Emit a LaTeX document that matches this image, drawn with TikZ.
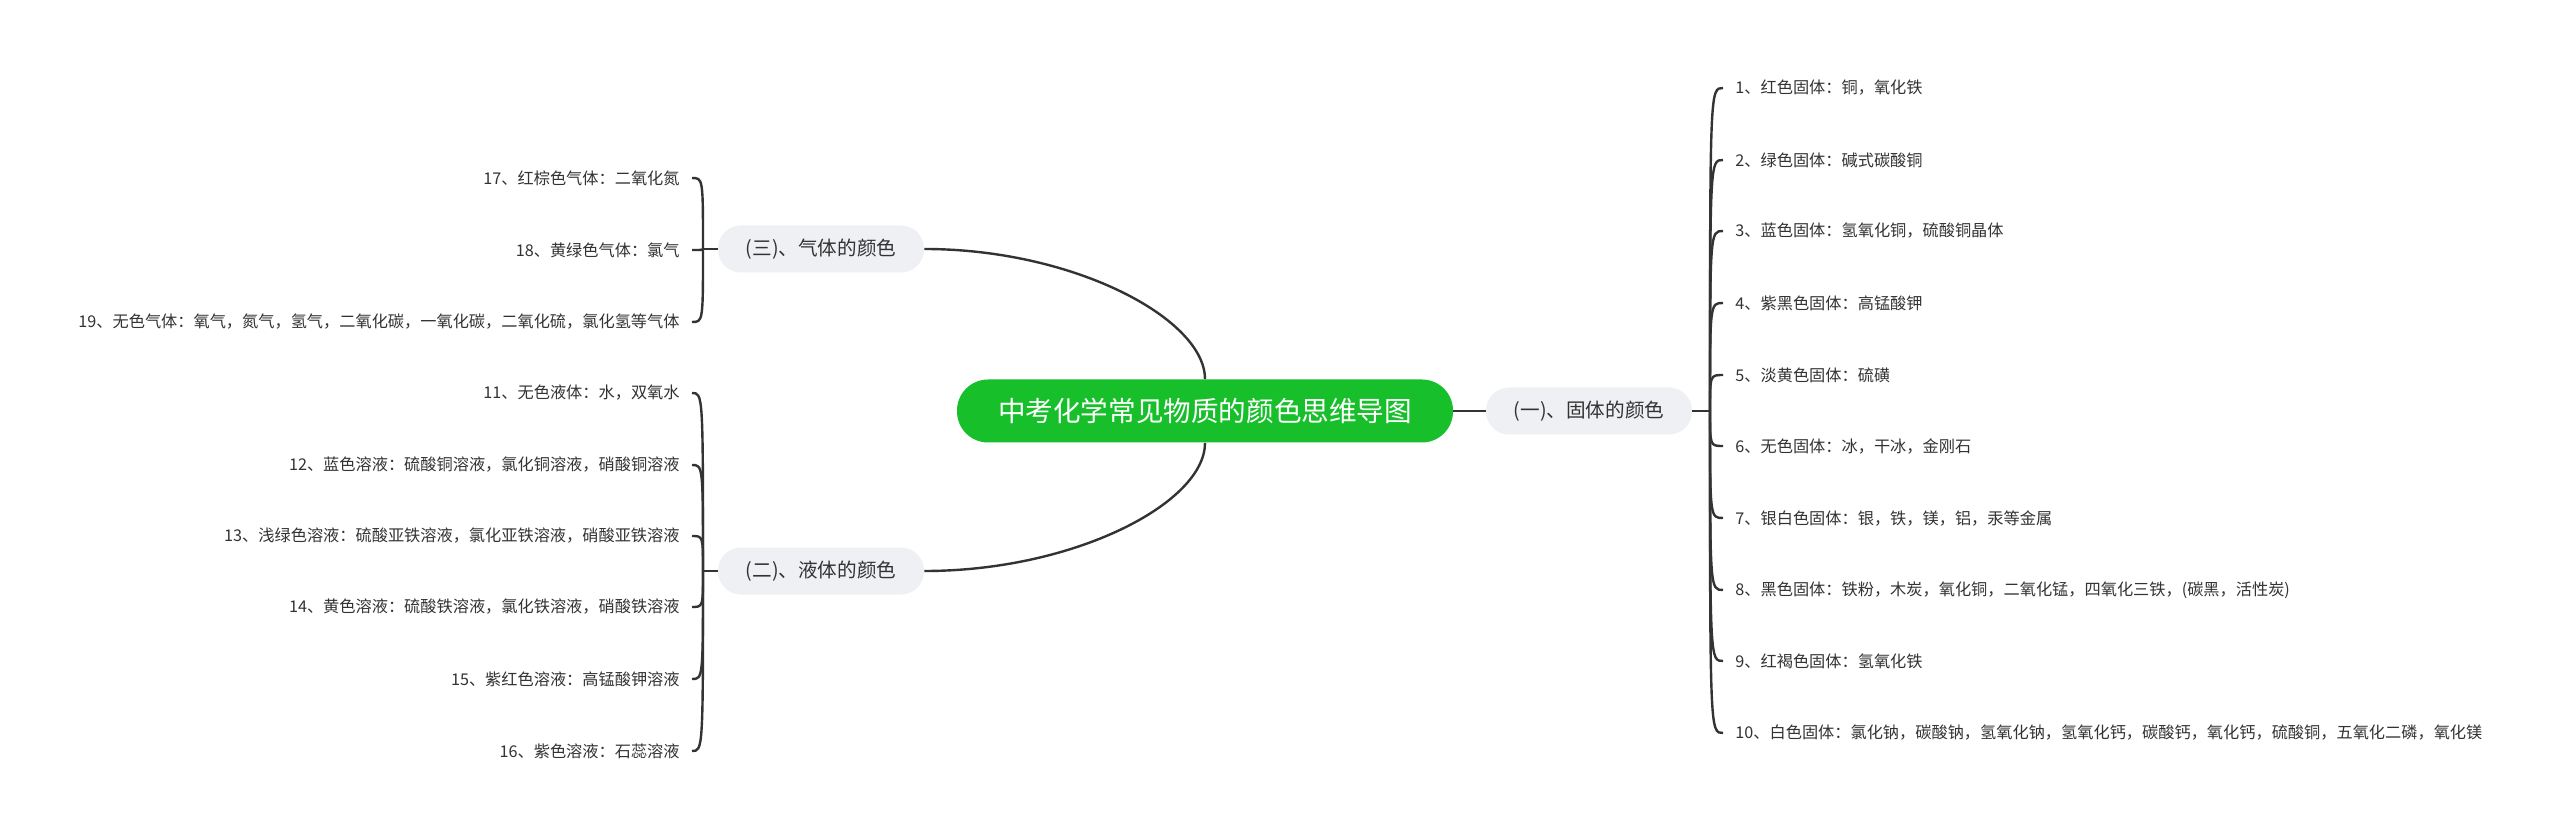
\documentclass[tikz,border=0pt]{standalone}
\usepackage{fontspec}
\setmainfont{Noto Sans CJK SC}
\definecolor{rootgreen}{HTML}{17C02A}
\definecolor{branchgray}{HTML}{EEF0F4}
\definecolor{wiregray}{HTML}{333333}

\begin{document}
\begin{tikzpicture}[x=0.5pt, y=-0.5pt,
	wire/.style={draw=wiregray, line width=1.2pt},
	rootbox/.style={fill=rootgreen, text=white, rounded corners=15.5pt, minimum width=248pt, minimum height=31.5pt, inner sep=0pt, font=\fontsize{13.8}{16}\selectfont},
	branchbox/.style={fill=branchgray, text=wiregray, rounded corners=11.5pt, minimum width=103pt, minimum height=23.5pt, inner sep=0pt, font=\fontsize{9.8}{12}\selectfont},
	leafright/.style={anchor=west, inner xsep=6pt, inner ysep=2pt, text=wiregray, font=\fontsize{8.1}{10}\selectfont},
	leafleft/.style={anchor=east, inner xsep=6pt, inner ysep=2pt, text=wiregray, font=\fontsize{8.1}{10}\selectfont}]
		\useasboundingbox (0,0) rectangle (2560,839);
		\fill[white] (0,0) rectangle (2560,839);
		% Centre and first level:
		\node[rootbox] (root) at (1205,411){中考化学常见物质的颜色思维导图};
		\node[branchbox] (solid) at (1589,411){(一)、固体的颜色};
		\node[branchbox] (gas) at (821,249){(三)、气体的颜色};
		\node[branchbox] (liquid) at (821,571){(二)、液体的颜色};
		\coordinate (jsolid) at (1710,411);
		\coordinate (jgas) at (703,249);
		\coordinate (jliquid) at (703,571);
		% Leaves, right side:
		\node[leafright] (s1) at (1723,88){1、红色固体：铜，氧化铁};
		\node[leafright] (s2) at (1723,160){2、绿色固体：碱式碳酸铜};
		\node[leafright] (s3) at (1723,231){3、蓝色固体：氢氧化铜，硫酸铜晶体};
		\node[leafright] (s4) at (1723,303){4、紫黑色固体：高锰酸钾};
		\node[leafright] (s5) at (1723,375){5、淡黄色固体：硫磺};
		\node[leafright] (s6) at (1723,446){6、无色固体：冰，干冰，金刚石};
		\node[leafright] (s7) at (1723,518){7、银白色固体：银，铁，镁，铝，汞等金属};
		\node[leafright] (s8) at (1723,590){8、黑色固体：铁粉，木炭，氧化铜，二氧化锰，四氧化三铁，(碳黑，活性炭)};
		\node[leafright] (s9) at (1723,661){9、红褐色固体：氢氧化铁};
		\node[leafright] (s10) at (1723,733){10、白色固体：氯化钠，碳酸钠，氢氧化钠，氢氧化钙，碳酸钙，氧化钙，硫酸铜，五氧化二磷，氧化镁};
		% Leaves, left side:
		\node[leafleft] (g17) at (692,178){17、红棕色气体：二氧化氮};
		\node[leafleft] (g18) at (692,250){18、黄绿色气体：氯气};
		\node[leafleft] (g19) at (692,322){19、无色气体：氧气，氮气，氢气，二氧化碳，一氧化碳，二氧化硫，氯化氢等气体};
		\node[leafleft] (l11) at (692,393){11、无色液体：水，双氧水};
		\node[leafleft] (l12) at (692,465){12、蓝色溶液：硫酸铜溶液，氯化铜溶液，硝酸铜溶液};
		\node[leafleft] (l13) at (692,536){13、浅绿色溶液：硫酸亚铁溶液，氯化亚铁溶液，硝酸亚铁溶液};
		\node[leafleft] (l14) at (692,607){14、黄色溶液：硫酸铁溶液，氯化铁溶液，硝酸铁溶液};
		\node[leafleft] (l15) at (692,679){15、紫红色溶液：高锰酸钾溶液};
		\node[leafleft] (l16) at (692,751){16、紫色溶液：石蕊溶液};
		% Wires:
		\draw[wire] (root.east) -- (solid.west);
		\draw[wire] (gas.east) .. controls +(150,0) and +(0,-60) .. (root.north);
		\draw[wire] (liquid.east) .. controls +(150,0) and +(0,60) .. (root.south);
		\draw[wire] (solid.east) -- (jsolid);
		\draw[wire] (gas.west) -- (jgas);
		\draw[wire] (liquid.west) -- (jliquid);
		\draw[wire] (jsolid) .. controls (jsolid |- s1) .. (s1.west);
		\draw[wire] (jsolid) .. controls (jsolid |- s2) .. (s2.west);
		\draw[wire] (jsolid) .. controls (jsolid |- s3) .. (s3.west);
		\draw[wire] (jsolid) .. controls (jsolid |- s4) .. (s4.west);
		\draw[wire] (jsolid) .. controls (jsolid |- s5) .. (s5.west);
		\draw[wire] (jsolid) .. controls (jsolid |- s6) .. (s6.west);
		\draw[wire] (jsolid) .. controls (jsolid |- s7) .. (s7.west);
		\draw[wire] (jsolid) .. controls (jsolid |- s8) .. (s8.west);
		\draw[wire] (jsolid) .. controls (jsolid |- s9) .. (s9.west);
		\draw[wire] (jsolid) .. controls (jsolid |- s10) .. (s10.west);
		\draw[wire] (jgas) .. controls (jgas |- g17) .. (g17.east);
		\draw[wire] (jgas) .. controls (jgas |- g18) .. (g18.east);
		\draw[wire] (jgas) .. controls (jgas |- g19) .. (g19.east);
		\draw[wire] (jliquid) .. controls (jliquid |- l11) .. (l11.east);
		\draw[wire] (jliquid) .. controls (jliquid |- l12) .. (l12.east);
		\draw[wire] (jliquid) .. controls (jliquid |- l13) .. (l13.east);
		\draw[wire] (jliquid) .. controls (jliquid |- l14) .. (l14.east);
		\draw[wire] (jliquid) .. controls (jliquid |- l15) .. (l15.east);
		\draw[wire] (jliquid) .. controls (jliquid |- l16) .. (l16.east);
\end{tikzpicture}
\end{document}
